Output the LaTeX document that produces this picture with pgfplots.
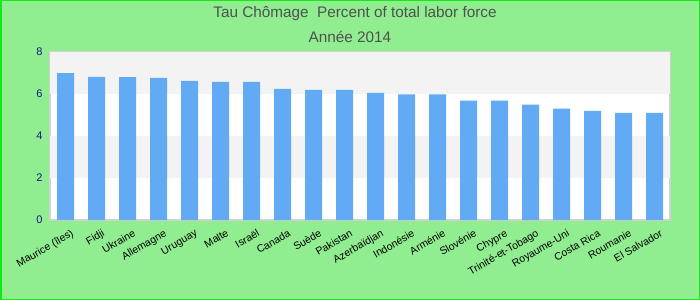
\documentclass[border=0pt]{standalone}
\usepackage{pgfplots}
\pgfplotsset{compat=1.18}
\usepackage{fontspec}
\setmainfont{Liberation Sans}
\definecolor{bg}{RGB}{144,238,144}
\definecolor{frame}{RGB}{20,235,20}
\definecolor{bar}{RGB}{99,170,245}
\definecolor{band}{RGB}{243,243,243}
\definecolor{tickblue}{RGB}{20,20,140}
\definecolor{titlegray}{RGB}{80,80,80}
\begin{document}
\begin{tikzpicture}
\fill[bg] (0pt,0pt) rectangle (700pt,300pt);
\draw[frame, line width=1.5pt] (0.75pt,0.75pt) rectangle (699.25pt,299.25pt);
\node[font=\fontsize{15.3}{17}\selectfont, text=titlegray] at (355pt,286pt) {Tau Chômage\ \ Percent of total labor force};
\node[font=\fontsize{15.3}{17}\selectfont, text=titlegray] at (350pt,263pt) {Année 2014};
\begin{axis}[
  at={(50pt,80pt)}, anchor=south west,
  scale only axis, width=620pt, height=168pt,
  xmin=-0.5, xmax=19.5, ymin=0, ymax=8,
  ytick={0,2,4,6,8},
  xtick=data,
  xticklabels={Maurice (îles),Fidji,Ukraine,Allemagne,Uruguay,Malte,Israël,Canada,Suède,Pakistan,Azerbaïdjan,Indonésie,Arménie,Slovénie,Chypre,Trinité-et-Tobago,Royaume-Uni,Costa Rica,Roumanie,El Salvador},
  major tick length=0pt,
  axis line style={draw=black!18, line width=1.2pt},
  axis background/.style={fill=white},
  /pgf/number format/assume math mode=true,
  yticklabel style={font=\fontsize{11}{13}\selectfont, text=tickblue, xshift=-4pt},
  xticklabel style={font=\fontsize{10.5}{12}\selectfont, rotate=30, anchor=north east, inner sep=0pt, yshift=-10pt},
  ybar, bar width=17pt,
  clip=false,
]
\fill[band] (axis cs:-0.5,2) rectangle (axis cs:19.5,4);
\fill[band] (axis cs:-0.5,6) rectangle (axis cs:19.5,8);
\addplot[fill=bar, draw=none] coordinates {
(0,7.00) (1,6.82) (2,6.80) (3,6.77) (4,6.63) (5,6.58) (6,6.58) (7,6.25) (8,6.20) (9,6.20)
(10,6.05) (11,5.98) (12,5.98) (13,5.68) (14,5.68) (15,5.50) (16,5.30) (17,5.20) (18,5.10) (19,5.10)
};
\end{axis}
\end{tikzpicture}
\end{document}
